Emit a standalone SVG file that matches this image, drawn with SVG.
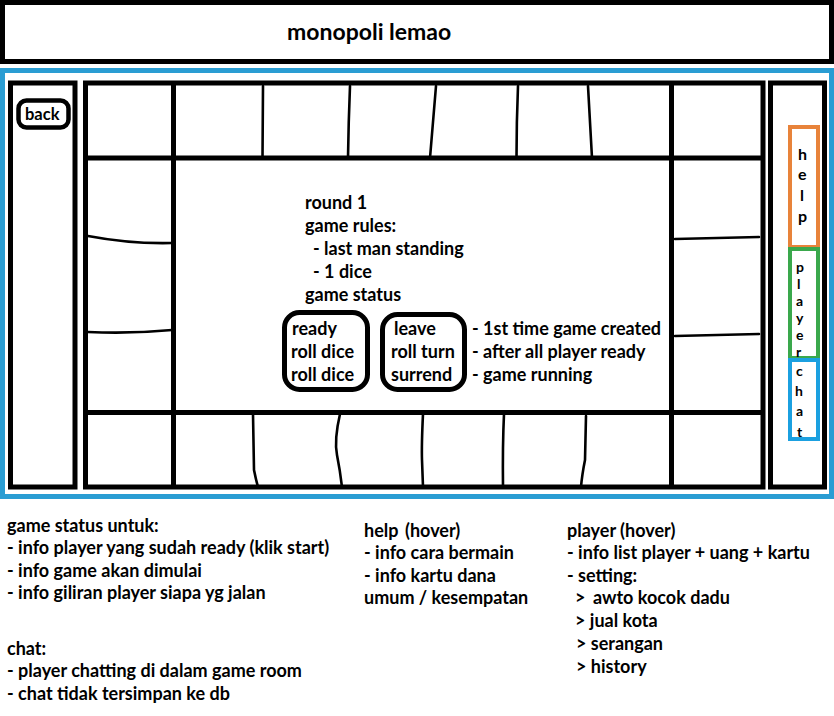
<svg xmlns="http://www.w3.org/2000/svg" width="834" height="716" viewBox="0 0 834 716">
<style>
  .box{fill:none;stroke:#000;stroke-width:5}
  .thin{fill:none;stroke:#000;stroke-width:2.6;stroke-linecap:round}
  .t{font-family:Lato,"Liberation Sans",sans-serif;font-weight:700;font-size:18px;fill:#000}
  .tb{font-family:Lato,"Liberation Sans",sans-serif;font-weight:700;font-size:16.5px;fill:#000}
  .th{font-family:Lato,"Liberation Sans",sans-serif;font-weight:700;font-size:16px;fill:#000}
  .ts{font-family:Lato,"Liberation Sans",sans-serif;font-weight:700;font-size:14px;fill:#000}
  .tt{font-family:Lato,"Liberation Sans",sans-serif;font-weight:700;font-size:23px;fill:#000}
</style>
<rect width="834" height="716" fill="#fff"/>
<g id="title">
  <rect class="box" x="2.5" y="2.5" width="829" height="59"/>
  <text class="tt" x="287" y="40">monopoli lemao</text>
</g>
<g id="frame">
  <rect x="2.5" y="70.5" width="829" height="426" fill="none" stroke="#2a9dd3" stroke-width="5"/>
</g>
<g id="left-panel">
  <rect class="box" x="10.5" y="83" width="64.5" height="404"/>
</g>
<g id="back-button">
  <rect x="18.5" y="100.5" width="50" height="27" rx="8" fill="#fff" stroke="#000" stroke-width="4.5"/>
  <text class="tb" x="25" y="120">back</text>
</g>
<g id="board">
  <rect class="box" x="85.5" y="83" width="677.5" height="404"/>
  <line class="box" x1="86" y1="158" x2="763" y2="158"/>
  <line class="box" x1="86" y1="412.5" x2="763" y2="412.5"/>
  <line class="box" x1="173.5" y1="83" x2="173.5" y2="487"/>
  <line class="box" x1="671.5" y1="83" x2="671.5" y2="487"/>
  <path class="thin" d="M263 86 L262.5 158"/>
  <path class="thin" d="M350 86 Q348.5 122 348 158"/>
  <path class="thin" d="M436 86 L430 158"/>
  <path class="thin" d="M518 86 Q516.5 122 516.5 158"/>
  <path class="thin" d="M588 86 Q590 122 592 158"/>
  <path class="thin" d="M253 414 L254 470 Q256 480 258 487"/>
  <path class="thin" d="M340 414 Q334 440 337 455 Q340 470 342 487"/>
  <path class="thin" d="M423 414 Q421.5 445 422 460 L423 487"/>
  <path class="thin" d="M504 414 Q502.5 445 503 487"/>
  <path class="thin" d="M586 416 L585 460 Q582 475 581 487"/>
  <path class="thin" d="M88 236 Q130 244 172 243"/>
  <path class="thin" d="M88 332 Q130 334 172 330"/>
  <path class="thin" d="M675 239 L759 237"/>
  <path class="thin" d="M675 336 L759 334"/>
</g>
<g id="board-info">
  <text class="t" x="305" y="208.5">round 1</text>
  <text class="t" x="305" y="231.5">game rules:</text>
  <text class="t" x="313" y="254.5">- last man standing</text>
  <text class="t" x="313" y="277.5">- 1 dice</text>
  <text class="t" x="305" y="300.5">game status</text>
</g>
<g id="status-actions">
  <rect class="box" x="284.5" y="312.5" width="83" height="77" rx="15"/>
  <text class="t" x="292" y="335">ready</text>
  <text class="t" x="291" y="358">roll dice</text>
  <text class="t" x="291" y="381">roll dice</text>
</g>
<g id="status-secondary">
  <rect class="box" x="382.5" y="314.5" width="82" height="75" rx="15"/>
  <text class="t" x="394" y="335">leave</text>
  <text class="t" x="391" y="358">roll turn</text>
  <text class="t" x="391" y="381">surrend</text>
</g>
<g id="status-notes">
  <text class="t" x="472" y="335">- 1st time game created</text>
  <text class="t" x="472" y="358">- after all player ready</text>
  <text class="t" x="472" y="381">- game running</text>
</g>
<g id="right-panel">
  <rect class="box" x="770.5" y="83" width="54" height="404"/>
</g>
<g id="help-tab">
  <rect x="790" y="127" width="28" height="120" fill="#fff" stroke="#e8833a" stroke-width="4"/>
  <text class="th" x="798" y="160">h</text>
  <text class="th" x="798" y="180">e</text>
  <text class="th" x="800" y="201">l</text>
  <text class="th" x="798" y="222">p</text>
</g>
<g id="player-tab">
  <rect x="790" y="249" width="28" height="109" fill="#fff" stroke="#3aa84c" stroke-width="4"/>
  <text class="ts" x="796" y="272">p</text>
  <text class="ts" x="797" y="289">l</text>
  <text class="ts" x="796" y="306">a</text>
  <text class="ts" x="796" y="323">y</text>
  <text class="ts" x="796" y="340">e</text>
  <text class="ts" x="796" y="357">r</text>
</g>
<g id="chat-tab">
  <rect x="790" y="360" width="28" height="79" fill="#fff" stroke="#1ba0e0" stroke-width="4"/>
  <text class="ts" x="796" y="376">c</text>
  <text class="ts" x="795" y="396">h</text>
  <text class="ts" x="796" y="416">a</text>
  <text class="ts" x="797" y="437">t</text>
</g>
<g id="connectors"></g>
<g id="notes-status">
  <text class="t" x="7" y="531.5">game status untuk:</text>
  <text class="t" x="7" y="553.5">- info player yang sudah ready (klik start)</text>
  <text class="t" x="7" y="576.5">- info game akan dimulai</text>
  <text class="t" x="7" y="598.5">- info giliran player siapa yg jalan</text>
</g>
<g id="notes-chat">
  <text class="t" x="7" y="654.5">chat:</text>
  <text class="t" x="7" y="676.5">- player chatting di dalam game room</text>
  <text class="t" x="7" y="699.5">- chat tidak tersimpan ke db</text>
</g>
<g id="notes-help">
  <text class="t" x="364" y="536.5">help <tspan x="405">(hover)</tspan></text>
  <text class="t" x="364" y="558.5">- info cara bermain</text>
  <text class="t" x="364" y="581.5">- info kartu dana</text>
  <text class="t" x="364" y="603.5">umum / kesempatan</text>
</g>
<g id="notes-player">
  <text class="t" x="567" y="536.5">player (hover)</text>
  <text class="t" x="567" y="558.5">- info list player + uang + kartu</text>
  <text class="t" x="567" y="581.5">- setting:</text>
  <text class="t" x="575" y="603.5">&gt;  <tspan x="593">awto kocok dadu</tspan></text>
  <text class="t" x="575" y="626.5">&gt; jual kota</text>
  <text class="t" x="576" y="649.5">&gt; serangan</text>
  <text class="t" x="576" y="672.5">&gt; history</text>
</g>
</svg>
